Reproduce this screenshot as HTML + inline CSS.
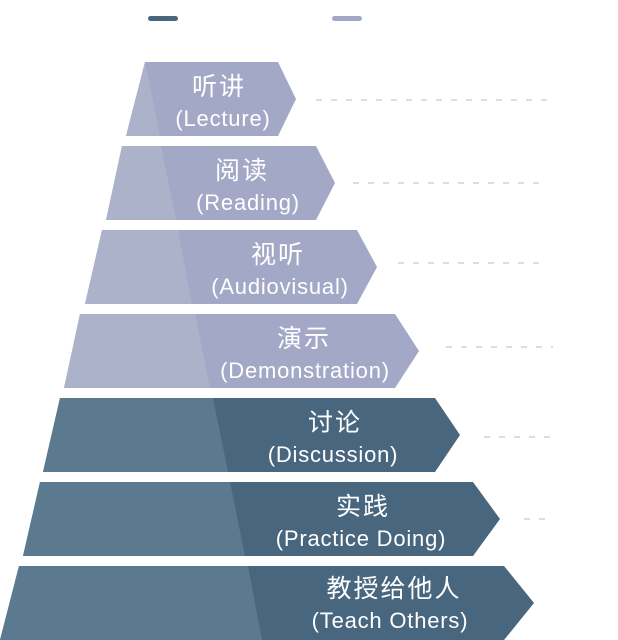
<!DOCTYPE html>
<html><head><meta charset="utf-8"><style>
html,body{margin:0;padding:0;background:#fff;}
svg{display:block;}
text{font-family:"Liberation Sans","Noto Sans CJK SC",sans-serif;fill:#fff;text-anchor:middle;}
.c{font-size:25px;letter-spacing:2px;}
.e{font-size:22px;letter-spacing:0.8px;}
</style></head><body>
<svg width="618" height="640" viewBox="0 0 618 640" xmlns="http://www.w3.org/2000/svg">
<rect x="148" y="16" width="30" height="5" rx="2.5" fill="#48677f"/>
<rect x="332" y="16" width="30" height="5" rx="2.5" fill="#a3a8c6"/>
<g stroke="#d3d3d3" stroke-width="1.5" stroke-dasharray="6,9">
<line x1="316" y1="100" x2="548" y2="100"/>
<line x1="353" y1="183" x2="548" y2="183"/>
<line x1="398" y1="263" x2="548" y2="263"/>
<line x1="446" y1="347" x2="553" y2="347"/>
<line x1="484" y1="437" x2="553" y2="437"/>
<line x1="524" y1="519" x2="553" y2="519"/>
</g>
<polygon points="145,62 278,62 296,99 278,136 126,136" fill="#a3a8c6"/>
<polygon points="145,62 160,136 126,136" fill="#adb2cb"/>
<polygon points="122,146 316,146 335,183 316,220 106,220" fill="#a3a8c6"/>
<polygon points="122,146 161,146 176,220 106,220" fill="#adb2cb"/>
<polygon points="102,230 357,230 377,267 357,304 85,304" fill="#a3a8c6"/>
<polygon points="102,230 178,230 192,304 85,304" fill="#adb2cb"/>
<polygon points="80,314 395,314 419,351 395,388 64,388" fill="#a3a8c6"/>
<polygon points="80,314 195,314 210,388 64,388" fill="#adb2cb"/>
<polygon points="60,398 435,398 460,435 435,472 43,472" fill="#48677f"/>
<polygon points="60,398 213,398 228,472 43,472" fill="#5b7a8f"/>
<polygon points="40,482 473,482 500,519 473,556 23,556" fill="#48677f"/>
<polygon points="40,482 230,482 245,556 23,556" fill="#5b7a8f"/>
<polygon points="19,566 504,566 534,603 504,640 0,640" fill="#48677f"/>
<polygon points="19,566 248,566 262,640 0,640" fill="#5b7a8f"/>

<text class="c" x="219" y="95">听讲</text>
<text class="e" x="223" y="126">(Lecture)</text>
<text class="c" x="242" y="179">阅读</text>
<text class="e" x="248" y="210">(Reading)</text>
<text class="c" x="278" y="263">视听</text>
<text class="e" x="280" y="294">(Audiovisual)</text>
<text class="c" x="304" y="347">演示</text>
<text class="e" x="305" y="378">(Demonstration)</text>
<text class="c" x="335" y="431">讨论</text>
<text class="e" x="333" y="462">(Discussion)</text>
<text class="c" x="363" y="515">实践</text>
<text class="e" x="361" y="546">(Practice Doing)</text>
<text class="c" x="394" y="597">教授给他人</text>
<text class="e" x="390" y="628">(Teach Others)</text>
</svg>
</body></html>
